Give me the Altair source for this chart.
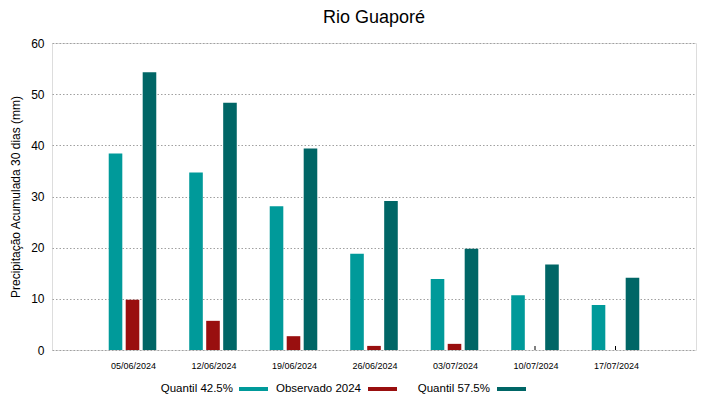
import altair as alt
import pandas as pd

dates = ["05/06/2024", "12/06/2024", "19/06/2024", "26/06/2024",
         "03/07/2024", "10/07/2024", "17/07/2024"]
series = ["Quantil 42.5%", "Observado 2024", "Quantil 57.5%"]
q425 = [38.4, 34.7, 28.1, 18.8, 13.9, 10.7, 8.8]
obs = [9.8, 5.7, 2.7, 0.8, 1.2, 0.0, 0.0]
q575 = [54.3, 48.3, 39.4, 29.1, 19.8, 16.7, 14.1]
colors = ["#009a9a", "#990f0f", "#006666"]

rows = []
for s, vals in zip(series, [q425, obs, q575]):
    for d, v in zip(dates, vals):
        rows.append({"data": d, "serie": s, "valor": v})
df = pd.DataFrame(rows)

W, H = 644, 307
FONT = "Liberation Sans"

xenc = alt.X("data:N", sort=dates, title=None,
             scale=alt.Scale(paddingInner=0, paddingOuter=0.5),
             axis=alt.Axis(labelAngle=0, labelAlign="center", labelFontSize=9,
                           labelColor="black", ticks=False, domain=False,
                           labelPadding=15, labelFont=FONT, labelOffset=1))

bars = alt.Chart(df).mark_bar().encode(
    x=xenc,
    xOffset=alt.XOffset("serie:N", sort=series,
                        scale=alt.Scale(paddingInner=0.2, paddingOuter=0.97)),
    y=alt.Y("valor:Q", title="Precipitação Acumulada 30 dias (mm)",
            scale=alt.Scale(domain=[0, 60], nice=False),
            axis=alt.Axis(values=[0, 10, 20, 30, 40, 50, 60], ticks=False,
                          domain=False, labelFontSize=12, labelColor="black",
                          labelPadding=8, titleFontSize=12, titleFontWeight="normal",
                          titleColor="black", titlePadding=8, labelFont=FONT,
                          titleFont=FONT, grid=True, gridColor="#a0a0a0",
                          gridDash=[1.5, 2], gridWidth=1)),
    color=alt.Color("serie:N", sort=series,
                    scale=alt.Scale(domain=series, range=colors), legend=None),
)

tick_df = pd.DataFrame({"data": dates})
xticks = alt.Chart(tick_df).mark_rule(color="black", strokeWidth=1).encode(
    x=alt.X("data:N", sort=dates),
    y=alt.value(H),
    y2=alt.value(H - 4),
)

# custom legend (label left of swatch)
legend_text_x = [181, 309, 438]
legend_sw_x = [187, 316, 445]
legend_y = 349
layers = [xticks, bars]
for name, col, tx, sx in zip(series, colors, legend_text_x, legend_sw_x):
    ldf = pd.DataFrame({"serie": [name]})
    layers.append(
        alt.Chart(ldf).mark_text(align="right", baseline="alphabetic", fontSize=11.5,
                                 font=FONT, color="black").encode(
            text="serie:N", x=alt.value(tx), y=alt.value(legend_y))
    )
    layers.append(
        alt.Chart(ldf).mark_rect(color=col).encode(
            x=alt.value(sx), x2=alt.value(sx + 29),
            y=alt.value(legend_y - 5), y2=alt.value(legend_y - 1))
    )

chart = alt.layer(*layers).properties(
    width=W, height=H,
    title=alt.TitleParams("Rio Guaporé", fontSize=18, font=FONT,
                          fontWeight="normal", color="black", anchor="middle",
                          offset=10),
    autosize=alt.AutoSizeParams(type="none"),
    padding={"left": 44, "top": 35, "right": 15, "bottom": 44},
).configure_view(stroke="black", strokeWidth=1).configure(background="white")

chart.save("out.html", embed_options={"renderer": "svg", "actions": False})
